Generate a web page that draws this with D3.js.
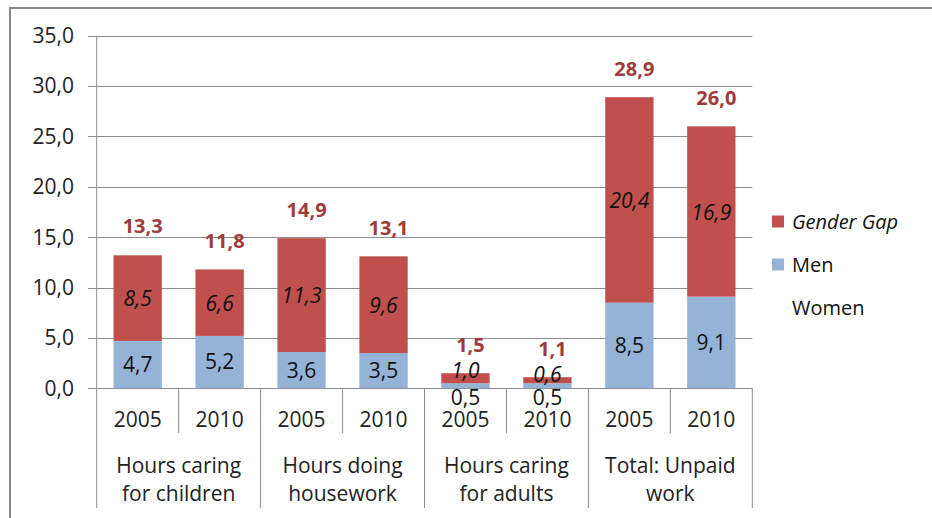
<!DOCTYPE html>
<html><head><meta charset="utf-8">
<script src="https://cdn.jsdelivr.net/npm/d3@7"></script>
<style>body{margin:0;background:#fff}svg{display:block}text{font-family:"Open Sans",sans-serif}</style>
</head><body><svg id="c" width="932" height="518"></svg>
<script>
const groups = [["Hours caring","for children"],["Hours doing","housework"],["Hours caring","for adults"],["Total: Unpaid","work"]];
const years = ["2005","2010"];
const men = [4.7,5.2,3.6,3.5,0.5,0.5,8.5,9.1];
const gap = [8.5,6.6,11.3,9.6,1.0,0.6,20.4,16.9];
const women = [13.3,11.8,14.9,13.1,1.5,1.1,28.9,26.0];
const yTicks = [0,5,10,15,20,25,30,35];
const seriesNames = ["Gender Gap","Men","Women"];

const RED="#C0504D", BLUE="#95B3D7", LBL="#9E3B3B", GRID="#8c8c8c";
const svg=d3.select("#c");
const fmt=v=>d3.format(".1f")(v).replace(".",",");
const keys=men.map((_,i)=>"b"+i);
const x=d3.scaleBand().domain(keys).range([96.7,752.3]).paddingInner(0.41).paddingOuter(0.205);
const y=d3.scaleLinear().domain([0,35]).range([388.3,35.7]);

// outer border
svg.append("rect").attr("x",10).attr("y",8).attr("width",940).attr("height",540).attr("fill","none").attr("stroke","#888").attr("stroke-width",2);

// gridlines and y labels
svg.append("g").selectAll("line").data(yTicks).join("line")
  .attr("x1",88).attr("x2",752.3).attr("y1",d=>Math.round(y(d))+0.5).attr("y2",d=>Math.round(y(d))+0.5)
  .attr("stroke",GRID).attr("stroke-width",1);
svg.append("g").selectAll("text").data(yTicks).join("text")
  .attr("x",74).attr("y",d=>y(d)).attr("dy","0.35em").attr("text-anchor","end")
  .attr("font-size",21).attr("fill","#222").text(d=>fmt(d));

// axis lines
const step=x.step();
svg.append("line").attr("x1",96.7).attr("x2",96.7).attr("y1",y(35)).attr("y2",508).attr("stroke",GRID);
for(let i=1;i<=men.length;i++){
  const xx=96.7+i*step;
  svg.append("line").attr("x1",xx).attr("x2",xx).attr("y1",y(0)).attr("y2",i%2===0?508:433).attr("stroke",GRID);
}

// bars
const g=svg.append("g");
g.selectAll("rect.m").data(men).join("rect").attr("class","m")
  .attr("x",(d,i)=>x(keys[i])).attr("width",x.bandwidth())
  .attr("y",d=>y(d)).attr("height",d=>y(0)-y(d)).attr("fill",BLUE);
g.selectAll("rect.g").data(gap).join("rect").attr("class","g")
  .attr("x",(d,i)=>x(keys[i])).attr("width",x.bandwidth())
  .attr("y",(d,i)=>y(men[i]+d)).attr("height",(d,i)=>y(men[i])-y(men[i]+d)).attr("fill",RED);

// labels
const cx=i=>x(keys[i])+x.bandwidth()/2;
const small=i=>women[i]<3;
g.selectAll("text.m").data(men).join("text").attr("class","m")
  .attr("x",(d,i)=>cx(i)).attr("y",(d,i)=>small(i)?y(0)+9:(y(0)+y(d))/2).attr("dy","0.35em")
  .attr("text-anchor","middle").attr("font-size",21).attr("fill","#111").text(d=>fmt(d));
g.selectAll("text.g").data(gap).join("text").attr("class","g")
  .attr("x",(d,i)=>cx(i)).attr("y",(d,i)=>small(i)?y(men[i]+d)-3:(y(men[i])+y(men[i]+d))/2+1).attr("dy","0.35em")
  .attr("text-anchor","middle").attr("font-size",21).attr("font-style","italic").attr("fill","#111").text(d=>fmt(d));
g.selectAll("text.w").data(women).join("text").attr("class","w")
  .attr("x",(d,i)=>cx(i)+5).attr("y",d=>y(d)-28).attr("dy","0.35em")
  .attr("text-anchor","middle").attr("font-size",20).attr("font-weight","bold").attr("fill",LBL).text(d=>fmt(d));

// category axis labels
keys.forEach((k,i)=>{
  svg.append("text").attr("x",cx(i)).attr("y",420).attr("dy","0.35em").attr("text-anchor","middle")
    .attr("font-size",21).attr("fill","#222").text(years[i%2]);
});
groups.forEach((lines,j)=>{
  const gx=96.7+(2*j+1)*step;
  lines.forEach((t,l)=>{
    svg.append("text").attr("x",gx).attr("y",465.7+l*27.7).attr("dy","0.35em").attr("text-anchor","middle")
      .attr("font-size",21).attr("fill","#222").text(t);
  });
});

// legend
const leg=svg.append("g");
const legColors=[RED,BLUE,null];
const legY=[221.5,264.5,307.5];
seriesNames.forEach((n,i)=>{
  if(legColors[i]) leg.append("rect").attr("x",772).attr("y",legY[i]-6).attr("width",12).attr("height",12).attr("fill",legColors[i]);
  leg.append("text").attr("x",792).attr("y",legY[i]).attr("dy","0.35em").attr("font-size",20)
    .attr("font-style",i===0?"italic":"normal").attr("fill","#111").text(n);
});
</script></body></html>
